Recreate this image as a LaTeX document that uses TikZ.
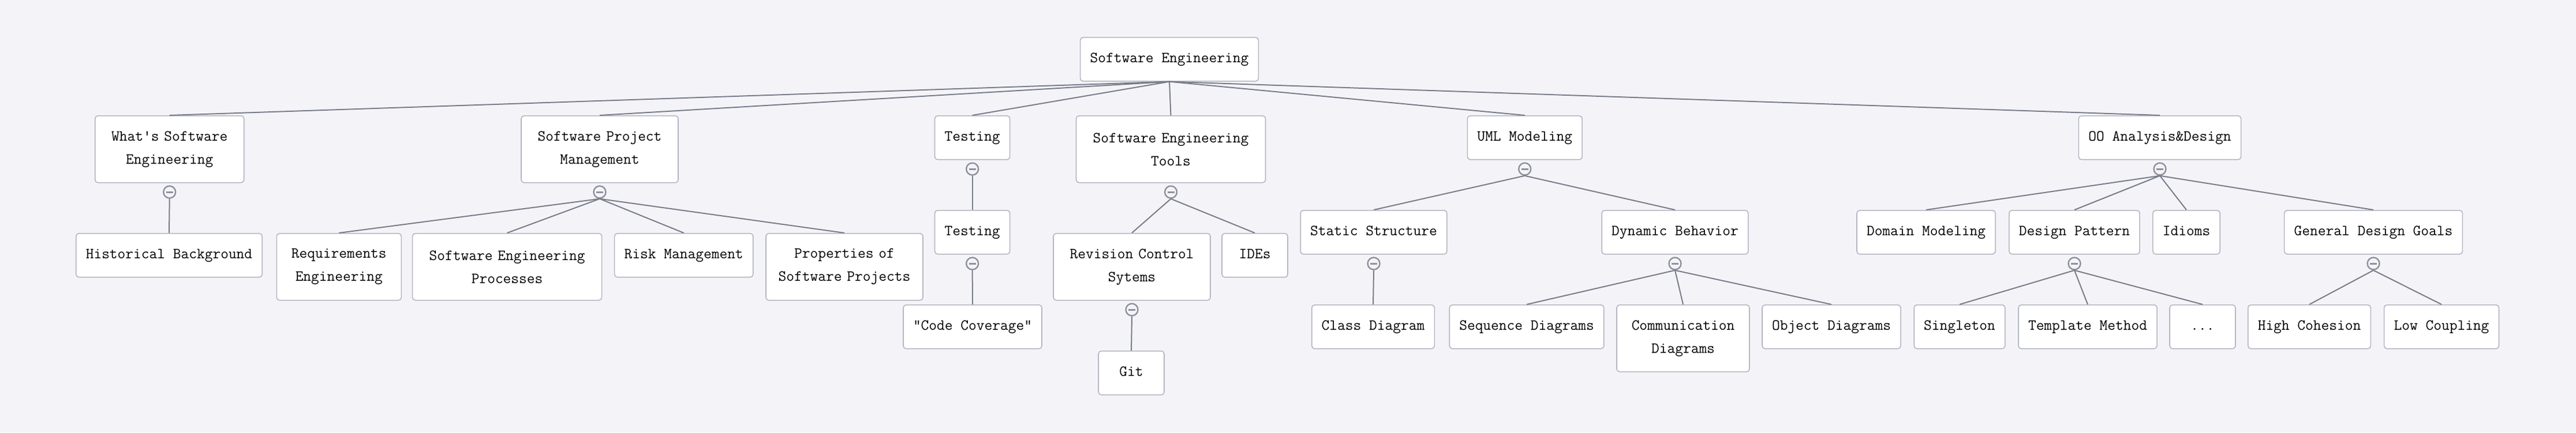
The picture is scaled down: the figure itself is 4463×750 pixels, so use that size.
\documentclass[tikz,border=0pt]{standalone}
\usepackage{tikz}

\definecolor{bg}{HTML}{F4F4F8}
\definecolor{boxline}{HTML}{B4B6C2}
\definecolor{linkgray}{HTML}{787C8A}
\definecolor{foldgray}{HTML}{8E909C}

\begin{document}
\begin{tikzpicture}
  [x=1pt,y=-1pt,
   topic/.style={draw=boxline,fill=white,rounded corners=5pt,line width=1.6pt,anchor=north,font=\ttfamily\fontsize{26.67}{40}\selectfont,inner xsep=17pt,inner ysep=0pt,minimum width=114pt,minimum height=76pt,text height=17pt,text depth=6pt},
   wrap/.style={topic,text width=#1,align=center,minimum height=116pt,text height=,text depth=},
   fold/.style={circle,draw=foldgray,fill=bg,line width=2.4pt,minimum size=21pt,inner sep=0pt,path picture={\draw[foldgray,line width=3pt] ([xshift=-6pt]path picture bounding box.center) -- ([xshift=6pt]path picture bounding box.center);}},
   link/.style={draw=linkgray,line width=2pt}]

  \fill[bg] (0,0) rectangle (4463,750);
  \useasboundingbox (0,0) rectangle (4463,750);

  % root and first level
  \node[topic] (1) at (2026,64) {Software Engineering};
  \node[wrap=224pt] (2) at (293.7,200) {What's Software\\Engineering};
  \node[wrap=238pt] (3) at (1039,200) {Software Project\\Management};
  \node[topic] (4) at (1684.6,200) {Testing};
  \node[wrap=294pt] (5) at (2028.5,200) {Software Engineering\\Tools};
  \node[topic] (6) at (2641.7,200) {UML Modeling};
  \node[topic] (7) at (3742,200) {OO Analysis\&Design};

  % second level
  \node[topic] (8) at (293,404) {Historical Background};
  \node[wrap=182pt] (9) at (587.3,404) {Requirements\\Engineering};
  \node[wrap=294pt] (10) at (878.6,404) {Software Engineering\\Processes};
  \node[topic] (11) at (1184.7,404) {Risk Management};
  \node[wrap=238pt] (12) at (1463,404) {Properties of\\Software Projects};
  \node[topic] (13) at (1684.6,364) {Testing};
  \node[wrap=238pt] (14) at (1961,404) {Revision Control\\Sytems};
  \node[topic] (15) at (2174,404) {IDEs};
  \node[topic] (16) at (2380,364) {Static Structure};
  \node[topic] (17) at (2902,364) {Dynamic Behavior};
  \node[topic] (18) at (3337,364) {Domain Modeling};
  \node[topic] (19) at (3594,364) {Design Pattern};
  \node[topic] (20) at (3788,364) {Idioms};
  \node[topic] (21) at (4112,364) {General Design Goals};

  % third level
  \node[topic] (22) at (1685,528) {"Code Coverage"};
  \node[topic] (23) at (1960,608) {Git};
  \node[topic] (24) at (2379,528) {Class Diagram};
  \node[topic] (25) at (2645,528) {Sequence Diagrams};
  \node[wrap=196pt] (26) at (2916,528) {Communication\\Diagrams};
  \node[topic] (27) at (3173,528) {Object Diagrams};
  \node[topic] (28) at (3395,528) {Singleton};
  \node[topic] (29) at (3617,528) {Template Method};
  \node[topic] (30) at (3816,528) {...};
  \node[topic] (31) at (4001,528) {High Cohesion};
  \node[topic] (32) at (4230,528) {Low Coupling};

  \foreach \p in {2,3,4,5,6,7,13,14,16,17,19,21}
    \node[fold] (c\p) at ([yshift=-15.5pt]\p.south) {};

  \foreach \from/\to in {1/2,1/3,1/4,1/5,1/6,1/7,c2/8,c3/9,c3/10,c3/11,c3/12,c4/13,c5/14,c5/15,c6/16,c6/17,c7/18,c7/19,c7/20,c7/21,c13/22,c14/23,c16/24,c17/25,c17/26,c17/27,c19/28,c19/29,c19/30,c21/31,c21/32}
    \draw[link] (\from.south) -- (\to.north);

\end{tikzpicture}
\end{document}
